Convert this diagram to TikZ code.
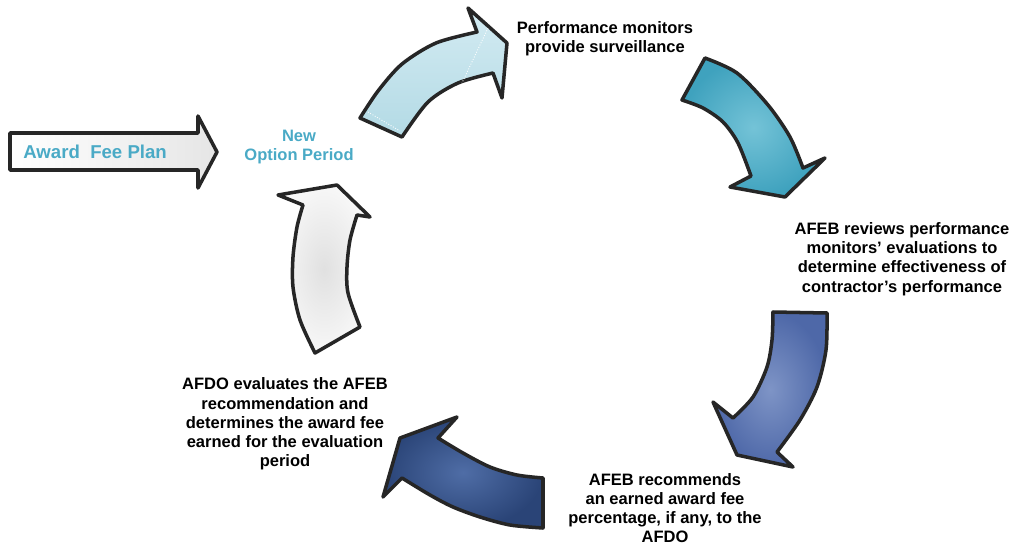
\documentclass[tikz,border=0pt]{standalone}
\usepackage{fontspec}
\setmainfont{Liberation Sans}
\definecolor{outl}{HTML}{262626}
\definecolor{tealtxt}{HTML}{4AAAC6}
\definecolor{lbA}{HTML}{D3EBF2}
\definecolor{lbB}{HTML}{B3DAE5}
\definecolor{tlA}{HTML}{74C3D7}
\definecolor{tlB}{HTML}{3FA2BE}
\definecolor{mbA}{HTML}{7E94C6}
\definecolor{mbB}{HTML}{4E68A8}
\definecolor{dbA}{HTML}{4F6DA6}
\definecolor{dbB}{HTML}{2A4477}
\begin{document}
\begin{tikzpicture}[x=0.02cm,y=-0.02cm,
  arr/.style={draw=outl,line width=2pt,line join=round},
  lbl/.style={inner sep=0pt,align=center,font=\bfseries\fontsize{9.4}{10.9}\selectfont},
  tlbl/.style={lbl,text=tealtxt}]
\useasboundingbox[fill=white] (0,0) rectangle (1012,545);
% Award Fee Plan arrow
\draw[arr,left color=white,right color=black!10]
  (10,133) -- (198,133) -- (198,116) -- (217,152) -- (198,188) -- (198,170) -- (10,170) -- cycle;
\node[anchor=west,inner sep=0pt,text=tealtxt,font=\bfseries\fontsize{10.6}{12}\selectfont] (afp) at (23,152) {Award~~Fee Plan};
% arrow 1 light blue
\draw[arr,top color=lbA,bottom color=lbB]
  (402,137) -- (360,118) -- plot[smooth] coordinates {(360,118) (378,91) (402,64) (436,43) (477,32)}
  -- (468,8) -- (507,43) -- (502,98) -- (493,73)
  -- plot[smooth] coordinates {(493,73) (458,83) (428,102) (402,137)} -- cycle;
\draw[white,densely dotted,line width=0.5pt] (368,112) -- (400,131);
\draw[white,densely dotted,line width=0.5pt] (488,28) -- (462,83);
% arrow 2 teal
\draw[arr,inner color=tlA,outer color=tlB]
  (682,100) -- (705,58) -- plot[smooth] coordinates {(705,58) (737,73) (768,105) (790,137) (803,168)}
  -- (825,158) -- (785,197) -- (730,187) -- (751,176)
  -- plot[smooth] coordinates {(751,176) (738,143) (723,122) (703,108) (682,100)} -- cycle;
% arrow 3 medium blue
\draw[arr,inner color=mbA,outer color=mbB]
  (773,312) -- (827,313) -- plot[smooth] coordinates {(827,313) (826,350) (817,387) (800,420) (777,452)}
  -- (793,467) -- (737,455) -- (713,402) -- (733,418)
  -- plot[smooth] coordinates {(733,418) (753,397) (767,367) (772,340) (773,312)} -- cycle;
% arrow 4 dark blue
\draw[arr,inner color=dbA,outer color=dbB]
  (543,478) -- (543,528) -- plot[smooth] coordinates {(543,528) (510,525) (480,517) (453,507) (430,495) (402,478)}
  -- (383,497) -- (400,438) -- (457,417) -- (438,438)
  -- plot[smooth] coordinates {(438,438) (463,453) (490,467) (517,475) (543,478)} -- cycle;
% arrow 5 white
\draw[arr,inner color=black!12,outer color=black!3]
  (360,327) -- (315,353) -- plot[smooth] coordinates {(315,353) (300,320) (293,287) (293,257) (297,227) (303,205)}
  -- (278,195) -- (337,185) -- (370,217) -- (357,215)
  -- plot[smooth] coordinates {(357,215) (350,240) (347,267) (348,293) (360,327)} -- cycle;
% labels
\node[lbl] (pm) at (605,39) {Performance monitors\\provide surveillance};
\node[tlbl] (nop) at (299,147) {New\\Option Period};
\node[lbl] (rev) at (902,259) {AFEB reviews performance\\monitors' evaluations to\\determine effectiveness of\\contractor's performance};
\node[lbl] (rec) at (665,508) {AFEB recommends\\an earned award fee\\percentage, if any, to the\\AFDO};
\node[lbl] (afdo) at (285,424) {AFDO evaluates the AFEB\\recommendation and\\determines the award fee\\earned for the evaluation\\period};
\end{tikzpicture}
\end{document}
